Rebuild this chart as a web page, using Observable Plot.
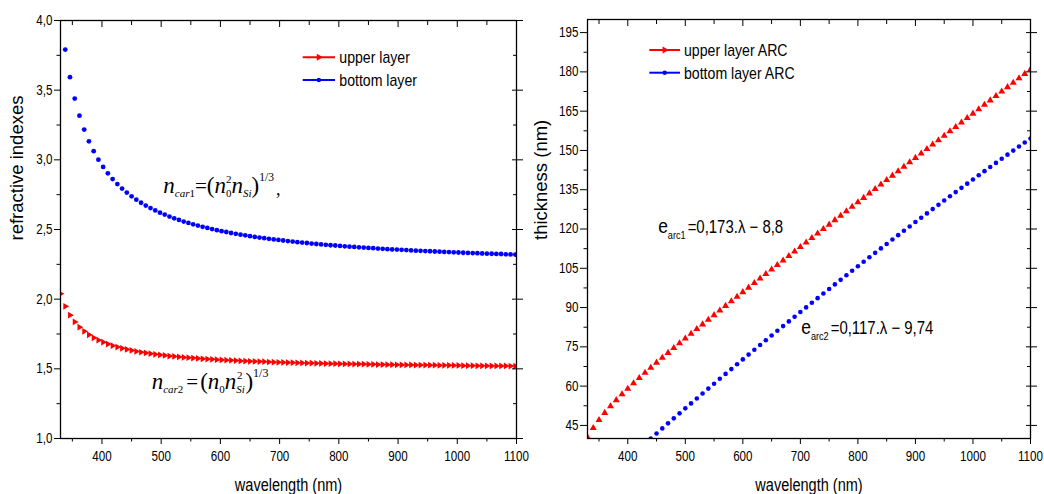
<!DOCTYPE html>
<html><head><meta charset="utf-8">
<script src="https://cdn.jsdelivr.net/npm/d3@7"></script>
<script src="https://cdn.jsdelivr.net/npm/@observablehq/plot@0.6"></script>
<style>
body{margin:0;background:#fff;}
#wrap{display:flex;width:1044px;height:494px;overflow:hidden;background:#fff;}
#wrap svg{overflow:visible;}
</style></head><body><div id="wrap"></div>
<script>
// ---------- data ----------
const wlLeft = [330,338,346,354,362,370,378,386,394,402,410,418,426,434,442,450,458,466,474,482,490,498,506,514,522,530,538,546,554,562,570,578,586,594,602,610,618,626,634,642,650,658,666,674,682,690,698,706,714,722,730,738,746,754,762,770,778,786,794,802,810,818,826,834,842,850,858,866,874,882,890,898,906,914,922,930,938,946,954,962,970,978,986,994,1002,1010,1018,1026,1034,1042,1050,1058,1066,1074,1082,1090,1098];
const nUpper = [2.039,1.949,1.885,1.837,1.799,1.769,1.744,1.723,1.706,1.691,1.678,1.666,1.656,1.647,1.639,1.632,1.625,1.619,1.614,1.609,1.604,1.600,1.596,1.592,1.589,1.585,1.582,1.580,1.577,1.575,1.572,1.570,1.568,1.566,1.564,1.562,1.561,1.559,1.557,1.556,1.554,1.553,1.552,1.551,1.549,1.548,1.547,1.546,1.545,1.544,1.543,1.542,1.541,1.541,1.540,1.539,1.538,1.537,1.537,1.536,1.535,1.535,1.534,1.534,1.533,1.532,1.532,1.531,1.531,1.530,1.530,1.529,1.529,1.528,1.528,1.527,1.527,1.527,1.526,1.526,1.525,1.525,1.525,1.524,1.524,1.523,1.523,1.523,1.522,1.522,1.522,1.521,1.521,1.521,1.521,1.520,1.520];
const nBottom = [4.054,3.791,3.593,3.440,3.317,3.217,3.133,3.062,3.001,2.949,2.903,2.862,2.826,2.794,2.765,2.738,2.714,2.692,2.672,2.654,2.637,2.621,2.607,2.593,2.580,2.569,2.557,2.547,2.537,2.528,2.519,2.511,2.503,2.495,2.488,2.482,2.475,2.469,2.463,2.458,2.452,2.447,2.442,2.438,2.433,2.429,2.425,2.421,2.417,2.413,2.409,2.406,2.403,2.399,2.396,2.393,2.390,2.387,2.385,2.382,2.379,2.377,2.375,2.372,2.370,2.368,2.366,2.363,2.361,2.359,2.357,2.356,2.354,2.352,2.350,2.348,2.347,2.345,2.344,2.342,2.341,2.339,2.338,2.336,2.335,2.333,2.332,2.331,2.330,2.328,2.327,2.326,2.325,2.324,2.322,2.321,2.320];

const wlRight = [330,340,350,360,370,380,390,400,410,420,430,440,450,460,470,480,490,500,510,520,530,540,550,560,570,580,590,600,610,620,630,640,650,660,670,680,690,700,710,720,730,740,750,760,770,780,790,800,810,820,830,840,850,860,870,880,890,900,910,920,930,940,950,960,970,980,990,1000,1010,1020,1030,1040,1050,1060,1070,1080,1090,1100];
const eUpper = [40.47,44.00,47.05,49.78,52.29,54.64,56.88,59.02,61.10,63.12,65.10,67.04,68.96,70.84,72.70,74.55,76.38,78.19,80.00,81.79,83.58,85.36,87.12,88.88,90.64,92.39,94.14,95.88,97.62,99.35,101.08,102.81,104.54,106.26,107.98,109.70,111.41,113.13,114.84,116.55,118.26,119.97,121.67,123.38,125.08,126.79,128.49,130.19,131.89,133.59,135.28,136.98,138.68,140.38,142.06,143.76,145.45,147.15,148.84,150.53,152.23,153.92,155.61,157.29,158.98,160.68,162.36,164.05,165.74,167.43,169.12,170.80,172.49,174.17,175.86,177.55,179.23,180.92];
const wlRightB = [440,450,460,470,480,490,500,510,520,530,540,550,560,570,580,590,600,610,620,630,640,650,660,670,680,690,700,710,720,730,740,750,760,770,780,790,800,810,820,830,840,850,860,870,880,890,900,910,920,930,940,950,960,970,980,990,1000,1010,1020,1030,1040,1050,1060,1070,1080,1090,1100];
const eBottom = [40.00,41.93,43.86,45.78,47.70,49.60,51.51,53.40,55.29,57.18,59.06,60.93,62.80,64.66,66.51,68.36,70.20,72.04,73.87,75.69,77.51,79.32,81.13,82.93,84.72,86.51,88.29,90.06,91.83,93.60,95.35,97.10,98.85,100.59,102.32,104.05,105.77,107.48,109.19,110.90,112.59,114.28,115.97,117.65,119.32,120.98,122.65,124.30,125.95,127.59,129.23,130.86,132.48,134.10,135.71,137.31,138.91,140.51,142.10,143.68,145.25,146.82,148.39,149.94,151.49,153.04,154.58];

const xTicks = [400,500,600,700,800,900,1000,1100];
const xMinor = [350,450,550,650,750,850,950,1050];
const yTicksL = [1.0,1.5,2.0,2.5,3.0,3.5,4.0];
const yMinorL = [1.25,1.75,2.25,2.75,3.25,3.75];
const yTicksR = [45,60,75,90,105,120,135,150,165,180,195];
const yMinorR = [52.5,67.5,82.5,97.5,112.5,127.5,142.5,157.5,172.5,187.5];

const legendL = ["upper layer","bottom layer"];
const legendR = ["upper layer ARC","bottom layer ARC"];
const yLabelL = "refractive indexes", yLabelR = "thickness (nm)", xLabel = "wavelength (nm)";

// ---------- tables ----------
const upperL = wlLeft.map((w,i)=>({w, v:nUpper[i]}));
const bottomL = wlLeft.map((w,i)=>({w, v:nBottom[i]}));
const upperR = wlRight.map((w,i)=>({w, v:eUpper[i]}));
const bottomR = wlRightB.map((w,i)=>({w, v:eBottom[i]}));

const RED = "#ff0000", BLUE = "#0000ff";
const SANS = "'Liberation Sans',Arial,sans-serif";
const SERIF = "'Liberation Serif','Times New Roman',serif";
const comma1 = d => d.toFixed(1).replace(".", ",");
const blank = () => "";

function frameAxes(yT, yM, yFmt, ySize) {
  return [
    Plot.axisY(yT, {tickSize: ySize, tickPadding: 2, tickFormat: yFmt, label: null, fontSize: 14}),
    Plot.axisY(yM, {tickSize: 3.5, tickFormat: blank, label: null}),
    Plot.axisY(yT, {anchor: "right", tickSize: 6, tickFormat: blank, label: null}),
    Plot.axisY(yT, {anchor: "right", tickSize: -5, tickFormat: blank, label: null}),
    Plot.axisY(yM, {anchor: "right", tickSize: -4, tickFormat: blank, label: null}),
    Plot.axisX(xTicks, {tickSize: 6, tickPadding: 7, tickFormat: d => String(d), label: null, fontSize: 14}),
    Plot.axisX(xMinor, {tickSize: 3.5, tickFormat: blank, label: null}),
    Plot.axisX(xTicks, {anchor: "top", tickSize: -6, tickFormat: blank, label: null}),
    Plot.axisX(xMinor, {anchor: "top", tickSize: -4, tickFormat: blank, label: null}),
    Plot.frame({stroke: "#000", strokeWidth: 1.3})
  ];
}

const left = Plot.plot({
  width: 522, height: 494, marginLeft: 60, marginRight: 6, marginTop: 20, marginBottom: 56,
  style: {fontFamily: SANS, fontSize: "14px", color: "#000", background: "transparent", overflow: "visible"},
  x: {domain: [330, 1100]}, y: {domain: [1, 4]},
  marks: [
    Plot.dot(upperL, {x: "w", y: "v", symbol: "triangle", r: 2.5, fill: RED, stroke: "none", rotate: 90, clip: true}),
    Plot.dot(bottomL, {x: "w", y: "v", r: 2.4, fill: BLUE, stroke: "none", clip: true}),
    ...frameAxes(yTicksL, yMinorL, comma1, 6),
    Plot.text([yLabelL], {text: d => d, frameAnchor: "left", dx: -43, dy: 11, rotate: -90, fontSize: 18.5}),
    Plot.text([xLabel], {text: d => d, frameAnchor: "bottom", dy: 52, fontSize: 17.5})
  ]
});

const right = Plot.plot({
  width: 522, height: 494, marginLeft: 65, marginRight: 14, marginTop: 19, marginBottom: 56,
  style: {fontFamily: SANS, fontSize: "14px", color: "#000", background: "transparent", overflow: "visible"},
  x: {domain: [330, 1100]}, y: {domain: [40, 200]},
  marks: [
    Plot.dot(upperR, {x: "w", y: "v", symbol: "triangle", r: 2.6, fill: RED, stroke: "none", clip: true}),
    Plot.dot(bottomR, {x: "w", y: "v", r: 2.3, fill: BLUE, stroke: "none", clip: true}),
    ...frameAxes(yTicksR, yMinorR, d => String(d), 7),
    Plot.text([yLabelR], {text: d => d, frameAnchor: "left", dx: -46, dy: 11, rotate: -90, fontSize: 18.5}),
    Plot.text([xLabel], {text: d => d, frameAnchor: "bottom", dy: 52, fontSize: 17.5})
  ]
});

const wrap = document.getElementById("wrap");
wrap.append(left, right);

// ---------- rich text helpers ----------
function rich(svg, x, y, family, parts, squeeze) {
  const t = d3.select(svg).append("text").attr("x", x).attr("y", y)
    .attr("font-family", family).attr("fill", "#000").attr("text-anchor", "start");
  if (!squeeze) t.attr("data-nosq", "1");
  let cur = 0;
  for (const p of parts) {
    const s = t.append("tspan").text(p.t).attr("font-size", p.s);
    const o = p.o || 0;
    if (o !== cur) { s.attr("dy", o - cur); cur = o; }
    if (p.dx) s.attr("dx", p.dx);
    if (p.i) s.attr("font-style", "italic");
    if (p.b) s.attr("font-weight", "bold");
  }
}
function legend(svg, x1, x2, ys, labels, tx, dyText) {
  const g = d3.select(svg).append("g");
  const cols = [RED, BLUE];
  ys.forEach((y, i) => {
    g.append("line").attr("x1", x1).attr("x2", x2).attr("y1", y).attr("y2", y)
      .attr("stroke", cols[i]).attr("stroke-width", 2);
    const cx = (x1 + x2) / 2;
    if (i === 0) g.append("path").attr("d", d3.symbol(d3.symbolTriangle, 22)())
      .attr("transform", `translate(${cx},${y}) rotate(90)`).attr("fill", cols[i]);
    else g.append("circle").attr("cx", cx).attr("cy", y).attr("r", 2.2).attr("fill", cols[i]);
    g.append("text").attr("x", tx).attr("y", y + dyText).attr("font-family", SANS)
      .attr("text-anchor", "start").attr("font-size", 17).attr("fill", "#000").text(labels[i]);
  });
}

// equations, anchored in data coordinates via the plot scales
const lx = left.scale("x"), ly = left.scale("y");
const rx = right.scale("x"), ry = right.scale("y");

rich(left, lx.apply(504.4), ly.apply(2.755), SERIF, [
  {t: "n", s: 23, i: 1},
  {t: "car", s: 11, i: 1, o: 4}, {t: "1", s: 11, o: 4},
  {t: "=", s: 21},
  {t: "(", s: 23},
  {t: "n", s: 23, i: 1},
  {t: "0", s: 11, o: 4}, {t: "2", s: 11, o: -10, dx: -5.5},
  {t: "n", s: 23, i: 1},
  {t: "Si", s: 11, i: 1, o: 4},
  {t: ")", s: 23},
  {t: "1/3", s: 11.5, o: -12},
  {t: ",", s: 18, o: 2, dx: 2}
], false);
rich(left, lx.apply(484.8), ly.apply(1.354), SERIF, [
  {t: "n", s: 23, i: 1},
  {t: "car", s: 11, i: 1, o: 4}, {t: "2", s: 11, o: 4},
  {t: "=", s: 21, dx: 3},
  {t: "(", s: 23, dx: 2},
  {t: "n", s: 23, i: 1},
  {t: "0", s: 11, o: 4},
  {t: "n", s: 23, i: 1},
  {t: "Si", s: 11, i: 1, o: 4}, {t: "2", s: 11, o: -10, dx: -8},
  {t: ")", s: 23, dx: 3},
  {t: "1/3", s: 12, o: -12}
], false);
rich(right, rx.apply(453.7), ry.apply(118.1), SANS, [
  {t: "e", s: 21},
  {t: "arc1", s: 11, o: 6},
  {t: "=0,173.λ − 8,8", s: 18, dx: 2}
], true);
rich(right, rx.apply(702.3), ry.apply(79.9), SANS, [
  {t: "e", s: 21},
  {t: "arc2", s: 11, o: 6},
  {t: "=0,117.λ − 9,74", s: 18, dx: 2}
], true);

legend(left, 302.7, 335, [57.3, 80], legendL, 339.3, 6);
legend(right, 127.3, 158, [50, 72.7], legendR, 162, 6);

// narrow (condensed) look for the sans texts, as in the reference
const SQ = 0.83;
const skip = new Set([yLabelL, yLabelR]);
for (const svg of [left, right]) {
  svg.querySelectorAll("text").forEach(t => {
    if (t.getAttribute("data-nosq")) return;
    if (skip.has(t.textContent)) return;
    const spans = t.querySelectorAll("tspan");
    const items = spans.length ? Array.from(spans) : [t];
    for (const el of items) {
      const L = el.getComputedTextLength();
      if (L > 0) { el.setAttribute("textLength", (L * SQ).toFixed(2)); el.setAttribute("lengthAdjust", "spacingAndGlyphs"); }
    }
  });
}
</script></body></html>
